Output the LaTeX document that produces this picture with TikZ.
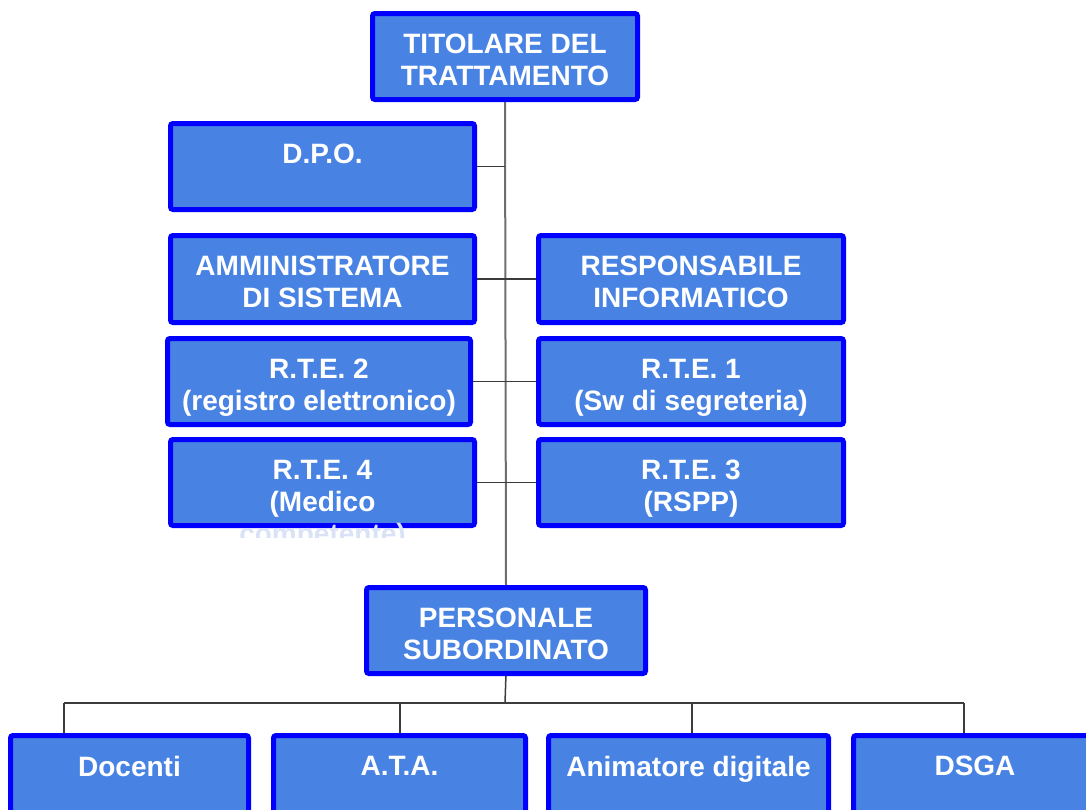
\documentclass[tikz,border=0pt]{standalone}
\usepackage{fontspec}
\setmainfont{Liberation Sans}
\usetikzlibrary{backgrounds}
\definecolor{boxfill}{RGB}{72,131,228}
\definecolor{boxline}{RGB}{0,0,255}
\definecolor{spine}{RGB}{110,110,110}
\definecolor{conn}{RGB}{60,60,60}
\definecolor{faint}{RGB}{218,226,246}
\begin{document}
\begin{tikzpicture}[x=1pt,y=-1pt,
  box/.style={draw=boxline, fill=boxfill, line width=5pt, rounded corners=2.5pt, inner sep=0pt, outer sep=0pt},
  txt/.style={text=white, font=\bfseries\fontsize{28}{32}\selectfont, align=center, inner sep=0pt, anchor=north},
  link/.style={draw=conn, line width=1.5pt},
  trunk/.style={draw=spine, line width=2pt}]
\useasboundingbox (0,0) rectangle (1086,809);
\clip (0,0) rectangle (1086,809);

% boxes
\node[box, minimum width=265, minimum height=86] (tit)  at (505,56.5)   {};
\node[box, minimum width=304, minimum height=86] (dpo)  at (322.5,166.5) {};
\node[box, minimum width=304, minimum height=87] (adm)  at (322.5,279)  {};
\node[box, minimum width=305, minimum height=87] (resp) at (691,279)    {};
\node[box, minimum width=303, minimum height=86] (rte2) at (319,381.5)  {};
\node[box, minimum width=305, minimum height=86] (rte1) at (691,381.5)  {};
\node[box, minimum width=304, minimum height=86] (rte4) at (322.5,482.5) {};
\node[box, minimum width=305, minimum height=86] (rte3) at (691,482.5)  {};
\node[box, minimum width=279, minimum height=86] (pers) at (506,630.5)  {};
\node[box, minimum width=238, minimum height=86] (doc)  at (129.5,778.5) {};
\node[box, minimum width=252, minimum height=86] (ata)  at (399.5,778.5) {};
\node[box, minimum width=280, minimum height=86] (anim) at (688.5,778.5) {};
\node[box, minimum width=243, minimum height=86] (dsga) at (975,778.5)  {};

% texts
\node[txt] (titT)  at ([yshift=-20.5pt]tit.north)  {TITOLARE DEL\\TRATTAMENTO};
\node[txt] (dpoT)  at ([yshift=-20.5pt]dpo.north)  {D.P.O.};
\node[txt] (admT)  at ([yshift=-20.5pt]adm.north)  {AMMINISTRATORE\\DI SISTEMA};
\node[txt] (respT) at ([yshift=-20.5pt]resp.north) {RESPONSABILE\\INFORMATICO};
\node[txt] (rte2T) at ([yshift=-20.5pt]rte2.north) {R.T.E. 2\\(registro elettronico)};
\node[txt] (rte1T) at ([yshift=-20.5pt]rte1.north) {R.T.E. 1\\(Sw di segreteria)};
\begin{scope}
  \clip (150,430) rectangle (500,537);
  \node[txt] (rte4T) at ([yshift=-20.5pt]rte4.north) {R.T.E. 4\\(Medico\\\textcolor{faint}{competente)}};
\end{scope}
\node[txt] (rte3T) at ([yshift=-20.5pt]rte3.north) {R.T.E. 3\\(RSPP)};
\node[txt] (persT) at ([yshift=-20.5pt]pers.north) {PERSONALE\\SUBORDINATO};
\node[txt] (docT)  at ([yshift=-20.5pt]doc.north)  {Docenti};
\node[txt] (ataT)  at ([yshift=-20.5pt]ata.north)  {A.T.A.};
\node[txt] (animT) at ([yshift=-20.5pt]anim.north) {Animatore digitale};
\node[txt] (dsgaT) at ([yshift=-20.5pt]dsga.north) {DSGA};

% connectors
\coordinate (bus)  at (505,703);
\coordinate (busL) at (64,703);
\coordinate (busA) at (400,703);
\coordinate (busN) at (692,703);
\coordinate (busR) at (964,703);
\begin{scope}[on background layer]
  \draw[trunk] (tit.south) -- (pers.north);
  \draw[link] (dpo.east) -- (dpo.east -| tit.south);
  \draw[link] (adm.east) -- (resp.west);
  \draw[link] (rte2.east) -- (rte1.west);
  \draw[link] (rte4.east) -- (rte3.west);
  \draw[link] (pers.south) -- (bus);
  \draw[link] (busL) -- (busR);
  \draw[link] (busL) -- (busL |- doc.north);
  \draw[link] (busA) -- (busA |- ata.north);
  \draw[link] (busN) -- (busN |- anim.north);
  \draw[link] (busR) -- (busR |- dsga.north);
\end{scope}
\end{tikzpicture}
\end{document}
